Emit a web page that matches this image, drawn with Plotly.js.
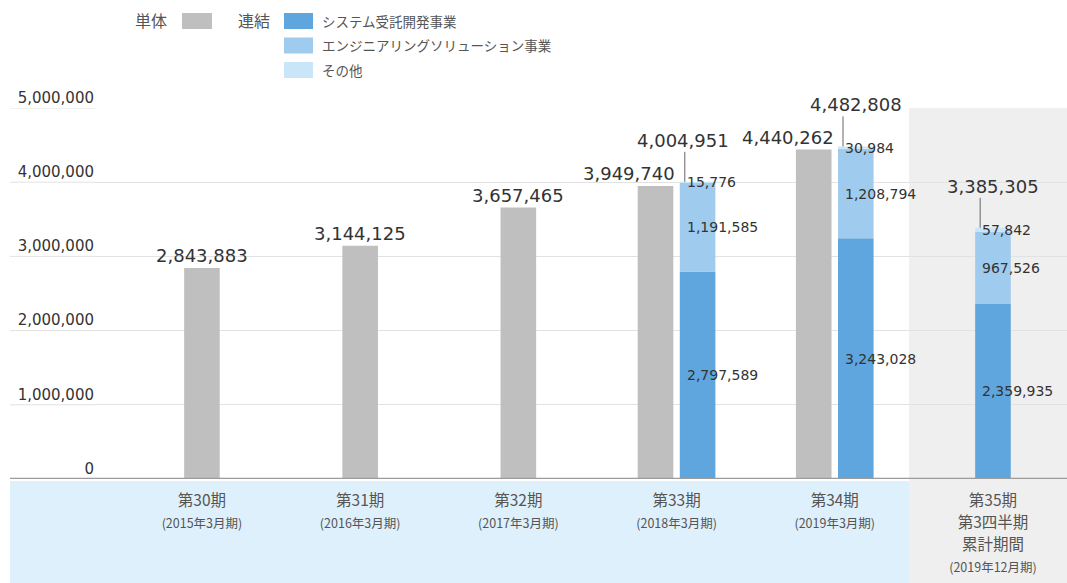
<!DOCTYPE html>
<html>
<head>
<meta charset="utf-8">
<script src="https://cdn.plot.ly/plotly-3.0.1.min.js"></script>
<style>
  html, body { margin: 0; padding: 0; background: #ffffff; }
  #chart { width: 1067px; height: 583px; }
</style>
</head>
<body>
<div id="chart"></div>
<script>
// ---------- data ----------
const categories = ['第30期', '第31期', '第32期', '第33期', '第34期', '第35期'];
const tickMainLines = [
  ['第30期'], ['第31期'], ['第32期'], ['第33期'], ['第34期'],
  ['第35期', '第3四半期', '累計期間']
];
const tickNotes = ['(2015年3月期)', '(2016年3月期)', '(2017年3月期)', '(2018年3月期)', '(2019年3月期)', '(2019年12月期)'];

const standalone = [2843883, 3144125, 3657465, 3949740, 4440262, null];          // 単体
const systemDev = [null, null, null, 2797589, 3243028, 2359935];                  // システム受託開発事業
const engSolution = [null, null, null, 1191585, 1208794, 967526];                 // エンジニアリングソリューション事業
const others = [null, null, null, 15776, 30984, 57842];                           // その他
const consolidatedTotal = [null, null, null, 4004951, 4482808, 3385305];          // 連結 合計

const yTicks = [0, 1000000, 2000000, 3000000, 4000000, 5000000];

const legendStandalone = '単体';
const legendConsolidated = '連結';
const seriesNames = ['システム受託開発事業', 'エンジニアリングソリューション事業', 'その他'];

// ---------- styling ----------
const COLORS = {
  gray: '#bfbfbf',
  system: '#5ea6dd',
  eng: '#9fcbef',
  other: '#c8e6f8',
  band: '#def0fb',
  panel: '#efefef',
  grid: '#e2e2e2',
  axis: '#9c9c9c',
  text: '#333333',
  legendText: '#555555'
};
const NUM_FONT = 'DejaVu Sans, Noto Sans, sans-serif';
const JP_FONT = 'Noto Sans CJK JP, Noto Sans, sans-serif';

const W = 1067, H = 583;
const M = { l: 95, r: 0, t: 108, b: 104 };
const plotW = W - M.l - M.r, plotH = H - M.t - M.b;
const xRange = [-0.676, 5.468];
const BAR_W = 0.225;
const HALF_GAP = 0.133;

const px = x => (x - M.l) / plotW;          // page pixel -> paper x
const py = y => (H - M.b - y) / plotH;      // page pixel -> paper y
const catToPaper = v => (v - xRange[0]) / (xRange[1] - xRange[0]);

const fmt = v => v.toLocaleString('en-US');

const grayCenter = categories.map((_, i) => consolidatedTotal[i] != null ? -HALF_GAP : 0);
const blueCenter = categories.map((_, i) => standalone[i] != null ? HALF_GAP : 0);

const engBase = systemDev.map(v => v);
const otherBase = systemDev.map((v, i) => v == null ? null : v + engSolution[i]);

// ---------- traces ----------
const traces = [
  {
    type: 'bar', name: legendStandalone, x: categories, y: standalone,
    width: BAR_W, offset: grayCenter.map(c => c - BAR_W / 2),
    marker: { color: COLORS.gray }, showlegend: false, hoverinfo: 'y'
  },
  {
    type: 'bar', name: seriesNames[0], x: categories, y: systemDev, base: 0,
    width: BAR_W, offset: blueCenter.map(c => c - BAR_W / 2),
    marker: { color: COLORS.system }, showlegend: false, hoverinfo: 'y'
  },
  {
    type: 'bar', name: seriesNames[1], x: categories, y: engSolution, base: engBase,
    width: BAR_W, offset: blueCenter.map(c => c - BAR_W / 2),
    marker: { color: COLORS.eng }, showlegend: false, hoverinfo: 'y'
  },
  {
    type: 'bar', name: seriesNames[2], x: categories, y: others, base: otherBase,
    width: BAR_W, offset: blueCenter.map(c => c - BAR_W / 2),
    marker: { color: COLORS.other }, showlegend: false, hoverinfo: 'y'
  }
];

// ---------- annotations ----------
const annotations = [];
const shapes = [];

// standalone totals
standalone.forEach((v, i) => {
  if (v == null) return;
  const paired = consolidatedTotal[i] != null;
  annotations.push({
    xref: 'x', yref: 'y',
    x: paired ? i + grayCenter[i] + BAR_W / 2 : i + grayCenter[i],
    y: v, xanchor: paired ? 'right' : 'center', yanchor: 'bottom',
    xshift: paired ? 4 : 0, yshift: 0,
    text: fmt(v), showarrow: false,
    font: { family: NUM_FONT, size: 18, color: COLORS.text }
  });
});

// consolidated totals + leader lines
consolidatedTotal.forEach((v, i) => {
  if (v == null) return;
  // keep clear of the neighbouring standalone label on the right
  const crowded = i + 1 < categories.length && standalone[i + 1] != null;
  annotations.push({
    xref: 'x', yref: 'y', x: i + blueCenter[i], y: v,
    xanchor: 'center', yanchor: 'bottom', yshift: 29, xshift: crowded ? -15 : 0,
    text: fmt(v), showarrow: false,
    font: { family: NUM_FONT, size: 18, color: COLORS.text }
  });
  shapes.push({
    type: 'line', layer: 'above',
    xref: 'x', xsizemode: 'pixel', xanchor: i + blueCenter[i] - BAR_W / 2, x0: 5, x1: 5,
    yref: 'y', ysizemode: 'pixel', yanchor: v, y0: 0, y1: 30,
    line: { color: '#666666', width: 1 }
  });
});

// segment labels
const segments = [
  { vals: systemDev, base: systemDev.map(v => v == null ? null : 0) },
  { vals: engSolution, base: engBase },
  { vals: others, base: otherBase }
];
segments.forEach(seg => {
  seg.vals.forEach((v, i) => {
    if (v == null) return;
    annotations.push({
      xref: 'x', yref: 'y', x: i + blueCenter[i] - BAR_W / 2, y: seg.base[i] + v / 2,
      xanchor: 'left', yanchor: 'middle', xshift: 5,
      text: fmt(v), showarrow: false,
      font: { family: NUM_FONT, size: 14, color: COLORS.text }
    });
  });
});

// ---------- background panels / axis line / grid extension ----------
const panelLeft = catToPaper(4.47);
shapes.push({
  type: 'rect', layer: 'below', xref: 'paper', yref: 'paper',
  x0: px(10), x1: panelLeft, y0: py(H), y1: py(481),
  fillcolor: COLORS.band, line: { width: 0 }
});
shapes.push({
  type: 'rect', layer: 'below', xref: 'paper', yref: 'paper',
  x0: panelLeft, x1: 1, y0: py(H), y1: 1,
  fillcolor: COLORS.panel, line: { width: 0 }
});
yTicks.forEach(t => {
  if (t === 0) return;
  shapes.push({
    type: 'line', layer: 'below', xref: 'paper', yref: 'y',
    x0: px(10), x1: 0, y0: t, y1: t,
    line: { color: COLORS.grid, width: 1 }
  });
});
shapes.push({
  type: 'line', layer: 'above', xref: 'paper', yref: 'y',
  x0: px(10), x1: 1, y0: 0, y1: 0,
  line: { color: COLORS.axis, width: 2.5 }
});

// ---------- custom legend ----------
const legendSwatch = (x0, y0, x1, y1, color) => shapes.push({
  type: 'rect', xref: 'paper', yref: 'paper',
  x0: px(x0), x1: px(x1), y0: py(y1), y1: py(y0),
  fillcolor: color, line: { width: 0 }
});
const legendText = (x, y, text, size) => annotations.push({
  xref: 'paper', yref: 'paper', x: px(x), y: py(y), xanchor: 'left', yanchor: 'middle',
  text: text, showarrow: false,
  font: { family: JP_FONT, size: size, color: COLORS.legendText }
});
legendText(133, 20, legendStandalone, 16);
legendSwatch(182, 13, 212, 29, COLORS.gray);
legendText(236, 20, legendConsolidated, 16);
const blueColors = [COLORS.system, COLORS.eng, COLORS.other];
seriesNames.forEach((name, k) => {
  const yc = 21 + k * 24.5;
  legendSwatch(284, yc - 8, 313, yc + 8, blueColors[k]);
  legendText(320, yc, name, 13.5);
});

// ---------- tick labels ----------
const tickText = categories.map((c, i) =>
  tickMainLines[i].map(l => '<span style="font-size:15.5px">' + l + '</span>').join('<br>') +
  '<br><span style="font-size:12.5px">' + tickNotes[i] + '</span>'
);

const layout = {
  width: W, height: H,
  margin: M,
  paper_bgcolor: '#ffffff',
  plot_bgcolor: 'rgba(0,0,0,0)',
  barmode: 'overlay',
  showlegend: false,
  font: { family: JP_FONT, color: COLORS.text },
  xaxis: {
    type: 'category',
    range: xRange,
    tickvals: categories,
    ticktext: tickText,
    tickfont: { family: JP_FONT, size: 17, color: '#555555' },
    showgrid: false, zeroline: false, showline: false,
    ticks: '', ticklabelstandoff: 9,
    fixedrange: true
  },
  yaxis: {
    range: [0, 5000000],
    tickvals: yTicks,
    ticktext: yTicks.map(fmt),
    ticklabelposition: 'outside top',
    tickfont: { family: NUM_FONT, size: 15, color: COLORS.text },
    showgrid: true, gridcolor: COLORS.grid, gridwidth: 1,
    zeroline: false, showline: false, ticks: '',
    fixedrange: true
  },
  annotations: annotations,
  shapes: shapes
};

Plotly.newPlot('chart', traces, layout, { displayModeBar: false, staticPlot: true });
</script>
</body>
</html>
